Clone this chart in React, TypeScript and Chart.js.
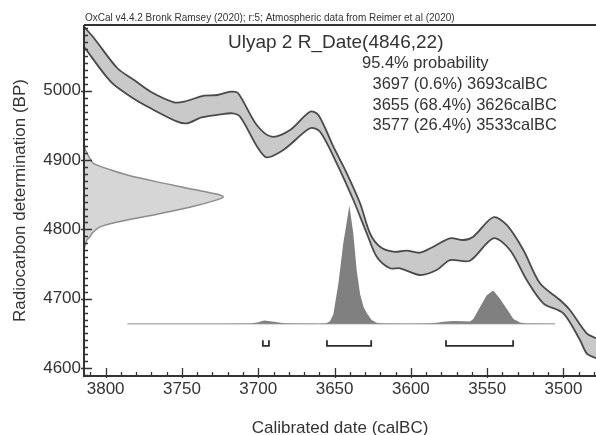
import { useEffect, useRef } from 'react';
import { Chart, registerables } from 'chart.js';

Chart.register(...registerables);

// ---------------- data ----------------
const headerText = 'OxCal v4.4.2 Bronk Ramsey (2020); r:5; Atmospheric data from Reimer et al (2020)';
const sampleName = 'Ulyap 2';
const c14Age = 4846;
const c14Error = 22;
const probabilityLabel = '95.4% probability';
const rangeStarts = [3697, 3655, 3577];
const rangeEnds = [3693, 3626, 3533];
const rangePercents = [0.6, 68.4, 26.4];

const xTickValues = [3800, 3750, 3700, 3650, 3600, 3550, 3500];
const yTickValues = [4600, 4700, 4800, 4900, 5000];

// calibration curve (upper and lower edges of the 1-sigma band)
const calUpperYears = [3814.2, 3807.6, 3792.3, 3781.4, 3770.5, 3755.2, 3748.6, 3735.5, 3726.8, 3718, 3713.3, 3701, 3691.2, 3679.2, 3666.1, 3660.6, 3650.8, 3642, 3633.3, 3626.8, 3620.2, 3611.5, 3602.7, 3594, 3585.3, 3574.4, 3565.6, 3559.1, 3546, 3537.2, 3526.3, 3515.4, 3502.3, 3495.7, 3484.8, 3478.7];
const calUpperBP = [5092.5, 5075.8, 5032.5, 5015.6, 4998.7, 4983.4, 4984.3, 4992.9, 4993.9, 4998.7, 4996.8, 4950.6, 4933.8, 4943.4, 4969.8, 4965.1, 4919.3, 4881, 4837.7, 4794.4, 4775, 4767.8, 4769.3, 4766.4, 4775, 4787.2, 4784.7, 4789.5, 4817.5, 4806.4, 4770.3, 4722.2, 4698.1, 4683.3, 4650.1, 4642.9];
const calLowerYears = [3814.2, 3796.7, 3783.6, 3770.5, 3753, 3746.5, 3737.7, 3726.8, 3717, 3711.9, 3695.6, 3683.6, 3666.1, 3659.5, 3648.6, 3637.7, 3628.9, 3622.4, 3613.7, 3607.1, 3594, 3583.1, 3574.4, 3561.3, 3546, 3535.1, 3524.1, 3513.2, 3500.1, 3489.2, 3484.8, 3478.7];
const calLowerBP = [5063.6, 5013.1, 4991.5, 4974.7, 4955.4, 4953.1, 4961.2, 4965.1, 4967.5, 4962.6, 4904.9, 4914.6, 4945.9, 4941, 4895.4, 4842.4, 4794.4, 4760.6, 4743.9, 4743.9, 4734.2, 4741.4, 4755.8, 4754.8, 4787.2, 4770.3, 4727, 4693.4, 4678.9, 4640.4, 4621.2, 4614];

// radiocarbon measurement distribution (relative density by BP)
const c14BP = [4925, 4915, 4907, 4900, 4895, 4886, 4878.5, 4867.5, 4858, 4851, 4847, 4843, 4833, 4823, 4813.5, 4804, 4795, 4789.5, 4784.5, 4777, 4770];
const c14Density = [0, 0.01, 0.03, 0.05, 0.07, 0.19, 0.31, 0.55, 0.78, 0.95, 1.0, 0.96, 0.78, 0.55, 0.31, 0.12, 0.06, 0.043, 0.02, 0.008, 0];

// calibrated (posterior) probability by calendar year, relative to max
const postYears = [3785.8, 3720, 3705, 3700, 3696.2, 3691, 3684, 3678, 3660, 3655.5, 3653, 3650.8, 3647.5, 3644.3, 3640.3, 3637.7, 3635.5, 3633.3, 3631, 3628.9, 3625.7, 3622.4, 3618, 3600, 3590, 3583, 3578.7, 3572, 3566, 3561.3, 3559.1, 3554.7, 3550.3, 3546, 3541.6, 3537.2, 3532.8, 3528.4, 3524, 3505.5];
const postProb = [0, 0, 0.002, 0.012, 0.026, 0.018, 0.006, 0.001, 0, 0.003, 0.02, 0.08, 0.34, 0.68, 1.0, 0.76, 0.45, 0.25, 0.14, 0.09, 0.03, 0.008, 0.001, 0, 0.002, 0.008, 0.016, 0.022, 0.02, 0.018, 0.04, 0.14, 0.24, 0.28, 0.21, 0.126, 0.04, 0.01, 0.002, 0];

// ---------------- layout / style constants ----------------
const X_MIN = 3478.7;
const X_MAX = 3814.2;
const Y_MIN = 4588.5;
const Y_MAX = 5094.9;
const C14_WIDTH_YEARS = 91.3;
const POST_BASE_BP = 4664;
const POST_HEIGHT_BP = 170.6;
const BRACKET_BASE_BP = 4632;
const BRACKET_TICK_BP = 4640;

const FONT = '"Liberation Sans", Arial, Helvetica, sans-serif';
const TEXT = '#333333';
const AXIS = '#333333';

const oxcalPlugin: any = {
  id: 'oxcalDecor',
  afterDraw(chart: any) {
    const { ctx, chartArea: a, scales } = chart;
    const x = scales.x;
    const y = scales.y;
    ctx.save();
    // frame
    ctx.strokeStyle = AXIS;
    ctx.lineWidth = 2;
    ctx.beginPath();
    ctx.moveTo(a.left, a.top);
    ctx.lineTo(a.right, a.top);
    ctx.moveTo(a.left, a.top);
    ctx.lineTo(a.left, a.bottom);
    ctx.lineTo(a.right, a.bottom);
    ctx.stroke();
    // inside tick marks
    ctx.lineWidth = 1.3;
    ctx.beginPath();
    for (let v = Math.ceil(x.min / 10) * 10; v <= x.max; v += 10) {
      const px = Math.round(x.getPixelForValue(v)) + 0.5;
      const major = v % 50 === 0;
      ctx.moveTo(px, a.bottom + (major ? 2 : 0));
      ctx.lineTo(px, a.bottom - (major ? 8 : 4));
    }
    for (let v = Math.ceil(y.min / 10) * 10; v <= y.max; v += 10) {
      const py = Math.round(y.getPixelForValue(v)) + 0.5;
      const major = v % 100 === 0;
      ctx.moveTo(a.left - (major ? 3 : 0), py);
      ctx.lineTo(a.left + (major ? 8 : 4), py);
    }
    ctx.stroke();
    // texts
    ctx.fillStyle = TEXT;
    ctx.textAlign = 'left';
    ctx.textBaseline = 'alphabetic';
    ctx.font = `10px ${FONT}`;
    ctx.fillText(headerText, 85, 21);
    ctx.font = `19px ${FONT}`;
    ctx.fillText(`${sampleName} R_Date(${c14Age},${c14Error})`, 228, 48.3);
    ctx.font = `16.5px ${FONT}`;
    ctx.fillText(probabilityLabel, 362, 67.6);
    rangeStarts.forEach((s, i) => {
      ctx.fillText(`${s} (${rangePercents[i]}%) ${rangeEnds[i]}calBC`, 372.5, 89.2 + i * 20.35);
    });
    ctx.restore();
  },
};

export default function App() {
  const ref = useRef<HTMLCanvasElement>(null);

  useEffect(() => {
    if (!ref.current) return;
    Chart.defaults.font.family = FONT;
    Chart.defaults.color = TEXT;

    const upper = calUpperYears.map((yr, i) => ({ x: yr, y: calUpperBP[i] }));
    const lower = calLowerYears.map((yr, i) => ({ x: yr, y: calLowerBP[i] }));
    const c14 = c14BP.map((bp, i) => ({ x: X_MAX - c14Density[i] * C14_WIDTH_YEARS, y: bp }));
    const post = postYears.map((yr, i) => ({ x: yr, y: POST_BASE_BP + postProb[i] * POST_HEIGHT_BP }));
    const baseline = [
      { x: postYears[0], y: POST_BASE_BP },
      { x: postYears[postYears.length - 1], y: POST_BASE_BP },
    ];
    const brackets = rangeStarts.map((s, i) => ({
      type: 'line',
      data: [
        { x: s, y: BRACKET_TICK_BP },
        { x: s, y: BRACKET_BASE_BP },
        { x: rangeEnds[i], y: BRACKET_BASE_BP },
        { x: rangeEnds[i], y: BRACKET_TICK_BP },
      ],
      borderColor: '#2e2e2e',
      borderWidth: 1.8,
      pointRadius: 0,
      fill: false,
      tension: 0,
      order: 0,
    }));

    const chart = new Chart(ref.current, {
      type: 'line',
      data: {
        datasets: [
          {
            data: upper,
            borderColor: '#4a4a4a',
            borderWidth: 1.8,
            backgroundColor: '#c9c9c9',
            fill: '+1',
            pointRadius: 0,
            tension: 0.3,
            order: 3,
          },
          {
            data: lower,
            borderColor: '#4a4a4a',
            borderWidth: 1.8,
            backgroundColor: '#c9c9c9',
            fill: false,
            pointRadius: 0,
            tension: 0.3,
            order: 2,
          },
          {
            data: c14,
            borderColor: '#8c8c8c',
            borderWidth: 1.5,
            backgroundColor: '#d6d6d6',
            fill: 'shape',
            pointRadius: 0,
            tension: 0.3,
            order: 4,
          },
          {
            data: post,
            borderWidth: 0,
            borderColor: 'rgba(0,0,0,0)',
            backgroundColor: '#808080',
            fill: { value: POST_BASE_BP },
            pointRadius: 0,
            tension: 0,
            order: 5,
          },
          {
            data: baseline,
            borderColor: '#b3b3b3',
            borderWidth: 1.5,
            fill: false,
            pointRadius: 0,
            order: 6,
          },
          ...brackets,
        ] as any,
      },
      options: {
        responsive: false,
        animation: false,
        devicePixelRatio: 1,
        events: [],
        layout: { padding: { top: 25, right: 0, bottom: 0, left: 0 } },
        plugins: {
          legend: { display: false },
          tooltip: { enabled: false },
          title: { display: false },
        },
        scales: {
          x: {
            type: 'linear',
            reverse: true,
            min: X_MIN,
            max: X_MAX,
            afterBuildTicks: (axis: any) => {
              axis.ticks = xTickValues.map((v) => ({ value: v }));
            },
            afterFit: (axis: any) => {
              axis.height = 59;
            },
            grid: { display: false, drawTicks: false },
            border: { display: false },
            ticks: {
              callback: (v: any) => String(v),
              font: { size: 17 },
              color: TEXT,
              padding: 3,
              maxRotation: 0,
              autoSkip: false,
            },
            title: {
              display: true,
              text: 'Calibrated date (calBC)',
              font: { size: 17, lineHeight: '14px' },
              color: TEXT,
              padding: { top: 0, bottom: 0 },
            },
          },
          y: {
            type: 'linear',
            min: Y_MIN,
            max: Y_MAX,
            afterBuildTicks: (axis: any) => {
              axis.ticks = yTickValues.map((v) => ({ value: v }));
            },
            afterFit: (axis: any) => {
              axis.width = 84;
            },
            grid: { display: false, drawTicks: false },
            border: { display: false },
            ticks: {
              callback: (v: any) => String(v),
              font: { size: 17 },
              color: TEXT,
              padding: 3,
              autoSkip: false,
            },
            title: {
              display: true,
              text: 'Radiocarbon determination (BP)',
              font: { size: 17 },
              color: TEXT,
              padding: { top: 10, bottom: 0 },
            },
          },
        },
      } as any,
      plugins: [oxcalPlugin],
    });

    return () => chart.destroy();
  }, []);

  return (
    <div style={{ position: 'absolute', left: 0, top: 0, width: 596, height: 435, background: '#ffffff' }}>
      <canvas ref={ref} width={596} height={435} style={{ display: 'block', width: 596, height: 435 }} />
    </div>
  );
}
